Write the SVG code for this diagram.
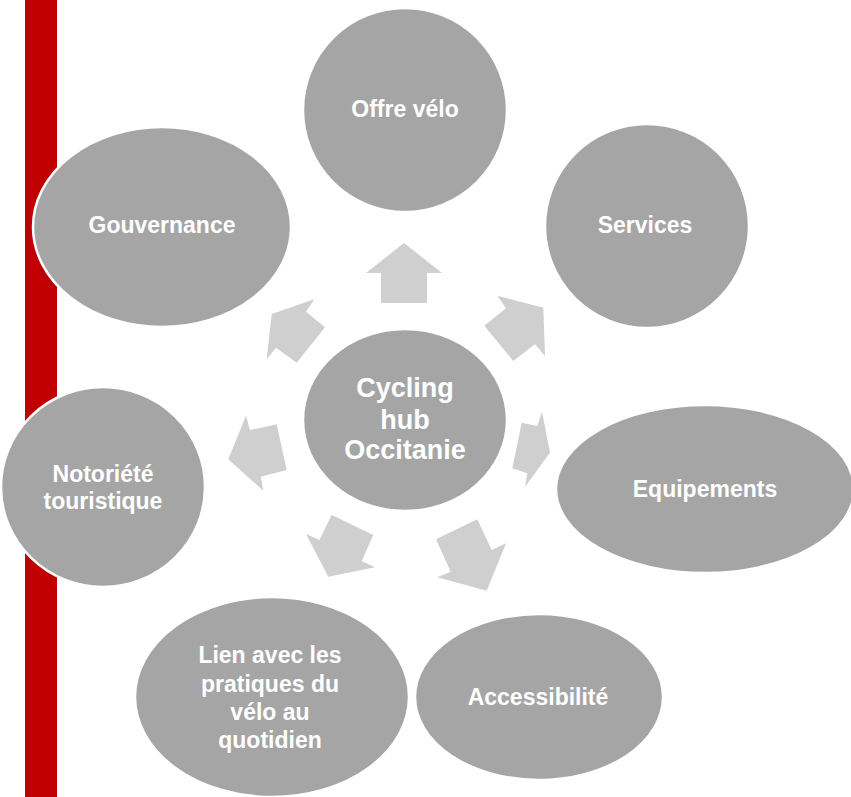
<svg xmlns="http://www.w3.org/2000/svg" width="851" height="797" viewBox="0 0 851 797">
<style>
.node ellipse{fill:#a5a5a5;stroke:#ffffff;stroke-width:2.5}
.node text{fill:#ffffff;font-family:"Liberation Sans",Arial,sans-serif;font-weight:bold;font-size:23px;text-anchor:middle}
.hub text{font-size:27px}
.arrows polygon{fill:#cfcfcf}
</style>
<rect x="0" y="0" width="851" height="797" fill="#ffffff"/>
<rect id="bar" x="25" y="0" width="32" height="797" fill="#c00000"/>
<g id="connectors" class="arrows">
<polygon points="404,243 442,273 427,273 427,303 381,303 381,273 366,273"/>
<polygon points="497.3,295.7 543.3,307.7 545,356 535,344.3 513.3,361 484.3,325.7 506,308.3"/>
<polygon points="314.3,299.3 271.7,314 266.7,359.3 276,347.7 296.7,362.7 325,327.3 306,311.7"/>
<polygon points="542,411.7 550,452.7 525,486.7 527.3,473.3 512.3,468.3 521.7,422.7 537.3,426"/>
<polygon points="246,415.7 228.3,459.3 263.3,490.7 260.7,476.7 286.7,470 276.7,424.3 250,430"/>
<polygon points="331.7,515 373.3,535 361.7,561 375,567.3 328.3,576.7 306,534 319.3,540"/>
<polygon points="436,539.3 477.3,519.3 491.7,550 506,543.3 486.7,590.7 437.3,577.3 450.7,571.7"/>
</g>
<g id="offre" class="node">
<ellipse cx="405" cy="110" rx="102" ry="102"/>
<text x="405" y="117">Offre vélo</text>
</g>
<g id="services" class="node">
<ellipse cx="647" cy="226" rx="102" ry="102"/>
<text x="645" y="233">Services</text>
</g>
<g id="equipements" class="node">
<ellipse cx="705" cy="489" rx="149" ry="84"/>
<text x="705" y="497">Equipements</text>
</g>
<g id="accessibilite" class="node">
<ellipse cx="539" cy="697" rx="124" ry="83"/>
<text x="538" y="705">Accessibilité</text>
</g>
<g id="lien" class="node">
<ellipse cx="272" cy="697" rx="137" ry="100"/>
<text x="270" y="663">Lien avec les</text>
<text x="270" y="692">pratiques du</text>
<text x="270" y="720">vélo au</text>
<text x="270" y="748">quotidien</text>
</g>
<g id="notoriete" class="node">
<ellipse cx="103" cy="487" rx="102" ry="100"/>
<text x="103" y="482">Notoriété</text>
<text x="103" y="509">touristique</text>
</g>
<g id="gouvernance" class="node">
<ellipse cx="162" cy="227" rx="129" ry="100"/>
<text x="162" y="233">Gouvernance</text>
</g>
<g id="hub" class="node hub">
<ellipse cx="405" cy="420" rx="102" ry="91"/>
<text x="405" y="397">Cycling</text>
<text x="405" y="429">hub</text>
<text x="405" y="459">Occitanie</text>
</g>
</svg>
